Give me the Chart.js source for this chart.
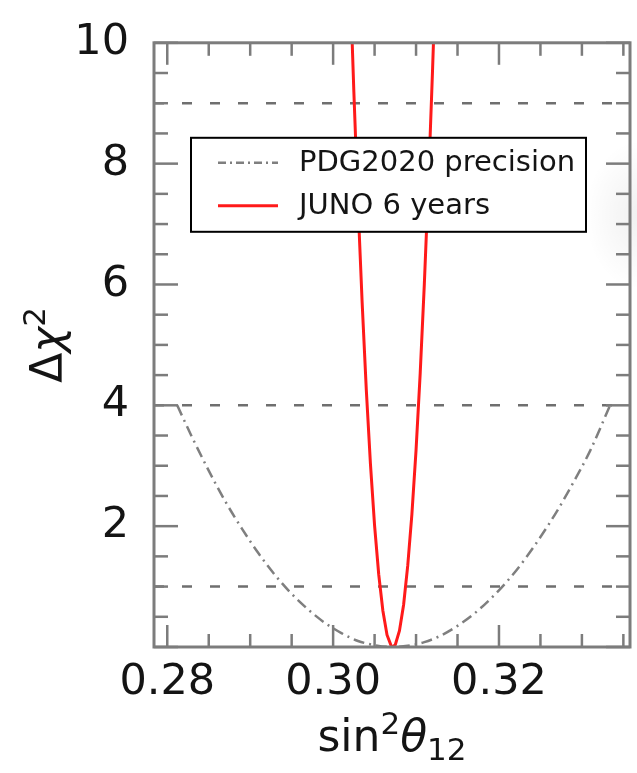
<!DOCTYPE html>
<html>
<head>
<meta charset="utf-8">
<script src="https://cdn.jsdelivr.net/npm/chart.js@4"></script>
<style>
  html, body { margin: 0; padding: 0; background: #fff; }
  #wrap {
    width: 637px; height: 773px; position: relative;
    background: radial-gradient(ellipse 55px 75px at 640px 215px, rgba(0,0,0,0.06), rgba(0,0,0,0) 100%), #fff;
  }
</style>
</head>
<body>
<div id="wrap"><canvas id="chart" width="637" height="773"></canvas></div>
<script>
// axis limits
const xLimits = [0.2784, 0.3358];
const yLimits = [0, 10];

// tick values / labels
const xMajor = [0.28, 0.30, 0.32];
const xMajorLabels = ['0.28', '0.30', '0.32'];
const xMinor = [0.285, 0.29, 0.295, 0.305, 0.31, 0.315, 0.325, 0.33, 0.335];
const yMajor = [0, 2, 4, 6, 8, 10];
const yMajorLabels = ['', '2', '4', '6', '8', '10'];
const yMinor = [0.5, 1, 1.5, 2.5, 3, 3.5, 4.5, 5, 5.5, 6.5, 7, 7.5, 8.5, 9, 9.5];

// reference Δχ² levels (dashed)
const refLevels = [1, 4, 9];

// PDG2020 precision curve
const pdgX    = [0.2812, 0.283, 0.285, 0.287, 0.289, 0.291, 0.293, 0.295, 0.297, 0.299, 0.301, 0.303, 0.305, 0.307, 0.309, 0.311, 0.313, 0.315, 0.317, 0.319, 0.321, 0.323, 0.325, 0.327, 0.329, 0.331, 0.3334];
const pdgChi2 = [4.00,   3.47,  2.92,  2.41,  1.96,  1.55,  1.19,  0.88,  0.62,  0.40,  0.23,  0.10,  0.03,  0.00,  0.02,  0.08,  0.19,  0.35,  0.55,  0.80,  1.09,  1.43,  1.82,  2.25,  2.73,  3.25,  4.00];

// JUNO 6 years curve
const junoX    = [0.3022, 0.3025, 0.3030, 0.3035, 0.3040, 0.3045, 0.3050, 0.3055, 0.3060, 0.3065, 0.3070, 0.3072, 0.3075, 0.3080, 0.3085, 0.3090, 0.3095, 0.3100, 0.3105, 0.3110, 0.3115, 0.3120, 0.3123];
const junoChi2 = [10.41,  9.19,   7.34,   5.70,   4.26,   3.03,   2.01,   1.20,   0.60,   0.20,   0.02,   0.00,   0.04,   0.27,   0.70,   1.35,   2.20,   3.26,   4.53,   6.01,   7.70,   9.59,   10.83];

const FONT = 'DejaVu Sans';
const TXT = '#141414';
const AXIS = '#7c7c7c';

function toPoints(xs, ys) {
  return xs.map((x, i) => ({ x: x, y: ys[i] }));
}

const refSets = refLevels.map(lv => ({
  label: 'ref' + lv,
  data: [{ x: xLimits[0], y: lv }, { x: xLimits[1], y: lv }],
  borderColor: '#6f6f6f',
  borderWidth: 2.5,
  borderDash: [10, 18],
  pointRadius: 0,
  showLine: true,
  order: 3,
  inLegend: false
}));

const datasets = refSets.concat([
  {
    label: 'PDG2020 precision',
    data: toPoints(pdgX, pdgChi2),
    borderColor: '#7f7f7f',
    borderWidth: 2.5,
    borderDash: [11, 5, 2, 5],
    pointRadius: 0,
    showLine: true,
    cubicInterpolationMode: 'monotone',
    order: 2,
    inLegend: true
  },
  {
    label: 'JUNO 6 years',
    data: toPoints(junoX, junoChi2),
    borderColor: '#ff1a1a',
    borderWidth: 3,
    pointRadius: 0,
    showLine: true,
    order: 1,
    inLegend: true
  }
]);

function labelFor(v, majors, labels) {
  const i = majors.findIndex(m => Math.abs(m - v) < 1e-9);
  return i >= 0 ? labels[i] : '';
}

// frame, inward ticks, legend and axis titles
const framePlugin = {
  id: 'frame',
  afterDatasetsDraw(chart) {
    const ctx = chart.ctx;
    const a = chart.chartArea;
    const xs = chart.scales.x, ys = chart.scales.y;
    ctx.save();
    ctx.strokeStyle = AXIS;
    ctx.lineWidth = 2.5;
    const tick = (x1, y1, x2, y2) => { ctx.beginPath(); ctx.moveTo(x1, y1); ctx.lineTo(x2, y2); ctx.stroke(); };
    xMajor.concat(xMinor).forEach(v => {
      const px = xs.getPixelForValue(v);
      const len = xMajor.includes(v) ? 22 : 13;
      tick(px, a.bottom, px, a.bottom - len);
      tick(px, a.top, px, a.top + len);
    });
    yMajor.concat(yMinor).forEach(v => {
      const py = ys.getPixelForValue(v);
      const len = yMajor.includes(v) ? 24 : 14;
      tick(a.left, py, a.left + len, py);
      tick(a.right, py, a.right - len, py);
    });
    ctx.lineWidth = 3;
    ctx.strokeRect(a.left, a.top, a.right - a.left, a.bottom - a.top);
    ctx.restore();
  },
  afterDraw(chart) {
    const ctx = chart.ctx;
    const a = chart.chartArea;
    ctx.save();

    // legend
    const lx = a.left + 37, ly = a.top + 95, lw = 395, lh = 94;
    ctx.fillStyle = '#fff';
    ctx.fillRect(lx, ly, lw, lh);
    ctx.strokeStyle = '#000';
    ctx.lineWidth = 2;
    ctx.strokeRect(lx, ly, lw, lh);
    const items = chart.data.datasets.filter(d => d.inLegend);
    items.forEach((d, i) => {
      const cy = ly + 25 + i * 43;
      ctx.strokeStyle = d.borderColor;
      ctx.lineWidth = d.borderWidth;
      ctx.setLineDash(d.borderDash ? [8, 4, 2, 4] : []);
      ctx.beginPath();
      ctx.moveTo(lx + 27, cy);
      ctx.lineTo(lx + 87, cy);
      ctx.stroke();
      ctx.setLineDash([]);
      ctx.fillStyle = TXT;
      ctx.font = '29px "' + FONT + '"';
      ctx.textBaseline = 'middle';
      ctx.textAlign = 'left';
      ctx.fillText(d.label, lx + 108, cy + 1);
    });

    // x title: sin²θ₁₂
    ctx.fillStyle = TXT;
    ctx.textBaseline = 'alphabetic';
    ctx.textAlign = 'left';
    const big = '44px "' + FONT + '"', small = '31px "' + FONT + '"', ital = 'italic 44px "' + FONT + '"';
    const parts = [
      { t: 'sin', f: big, dy: 0 },
      { t: '2', f: small, dy: -17 },
      { t: 'θ', f: ital, dy: 0 },
      { t: '12', f: small, dy: 9 }
    ];
    let total = 0;
    parts.forEach(p => { ctx.font = p.f; p.w = ctx.measureText(p.t).width; total += p.w; });
    let x0 = (a.left + a.right) / 2 - total / 2;
    const base = 751;
    parts.forEach(p => { ctx.font = p.f; ctx.fillText(p.t, x0, base + p.dy); x0 += p.w; });

    // y title: Δχ²
    const yparts = [
      { t: 'Δ', f: big, dy: 0 },
      { t: 'χ', f: ital, dy: 0 },
      { t: '2', f: small, dy: -17 }
    ];
    total = 0;
    yparts.forEach(p => { ctx.font = p.f; p.w = ctx.measureText(p.t).width; total += p.w; });
    ctx.translate(62, (a.top + a.bottom) / 2);
    ctx.rotate(-Math.PI / 2);
    x0 = -total / 2;
    yparts.forEach(p => { ctx.font = p.f; ctx.fillText(p.t, x0, p.dy); x0 += p.w; });
    ctx.restore();
  }
};

const ctx = document.getElementById('chart');

new Chart(ctx, {
  type: 'scatter',
  data: { datasets: datasets },
  options: {
    responsive: false,
    animation: false,
    devicePixelRatio: 1,
    layout: { padding: { top: 34, right: 7, left: 0, bottom: 0 } },
    plugins: {
      legend: { display: false },
      tooltip: { enabled: false }
    },
    scales: {
      x: {
        type: 'linear',
        min: xLimits[0],
        max: xLimits[1],
        grid: { display: false },
        border: { display: false },
        afterBuildTicks: s => { s.ticks = xMajor.concat(xMinor).sort((p, q) => p - q).map(v => ({ value: v })); },
        afterFit: s => { s.height = 126; },
        ticks: {
          autoSkip: false,
          maxRotation: 0,
          padding: 2,
          color: TXT,
          font: { family: FONT, size: 43 },
          callback: v => labelFor(v, xMajor, xMajorLabels)
        }
      },
      y: {
        type: 'linear',
        min: yLimits[0],
        max: yLimits[1],
        grid: { display: false },
        border: { display: false },
        afterBuildTicks: s => { s.ticks = yMajor.concat(yMinor).sort((p, q) => p - q).map(v => ({ value: v })); },
        afterFit: s => { s.width = 154; },
        ticks: {
          autoSkip: false,
          padding: 17,
          color: TXT,
          font: { family: FONT, size: 43 },
          callback: v => labelFor(v, yMajor, yMajorLabels)
        }
      }
    }
  },
  plugins: [framePlugin]
});
</script>
</body>
</html>
